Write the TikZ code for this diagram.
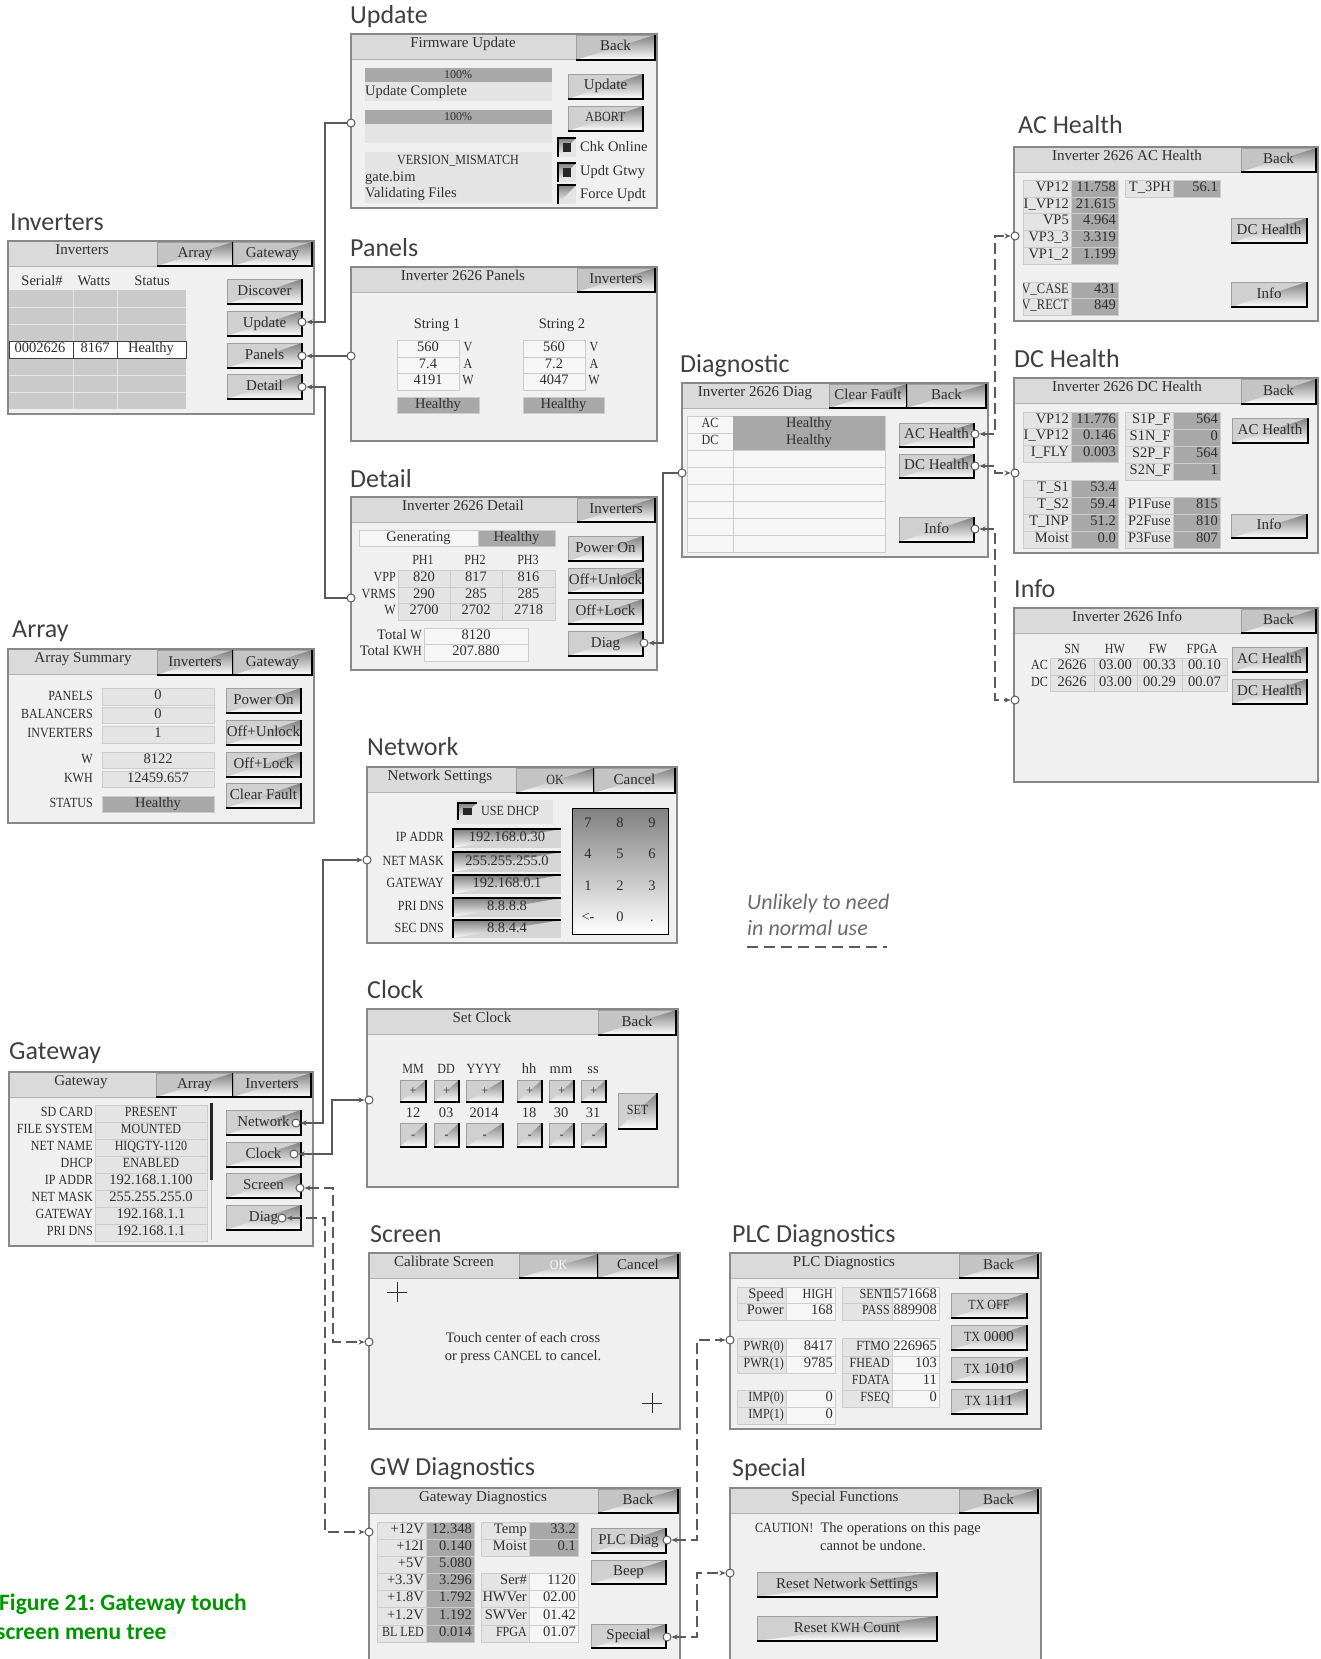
\documentclass[tikz,border=0pt]{standalone}
\usepackage{fontspec}
\setmainfont{Liberation Serif}
\newfontfamily\calfont{Carlito}
\newfontfamily\capfont[FakeStretch=0.86]{Liberation Serif}
\usetikzlibrary{arrows.meta}
\frenchspacing
\definecolor{scrbg}{HTML}{F0F0F0}
\definecolor{hdrbg}{HTML}{DADADA}
\definecolor{tabbg}{HTML}{C4C4C4}
\definecolor{btnbg}{HTML}{D0D0D0}
\definecolor{darkc}{HTML}{A8A8A8}
\definecolor{lightc}{HTML}{E4E4E4}
\definecolor{whitec}{HTML}{F6F6F6}
\definecolor{rowc}{HTML}{CACACA}
\definecolor{gridc}{HTML}{CCCCCC}
\definecolor{framec}{HTML}{888888}
\definecolor{shade}{HTML}{505050}
\definecolor{txtc}{HTML}{2E2E2E}
\definecolor{titlec}{HTML}{404040}
\definecolor{linec}{HTML}{5A5A5A}
\definecolor{capc}{RGB}{0,150,0}
\newcount\nodecnt
\newcommand\nxt{\global\advance\nodecnt by 1\relax}
\newcommand\fs{\fontsize{14.5}{16}\selectfont}
\newcommand\fb{\fontsize{15}{17}\selectfont}
\newcommand\fsm{\fontsize{12}{14}\selectfont}
\newcommand\fcap{\capfont\fontsize{14}{16}\selectfont}
\tikzset{
  ttl/.style={font=\calfont\fontsize{26}{28}\selectfont,text=titlec,anchor=base west,inner sep=0pt},
  hdrt/.style={font=\fb,text=txtc,inner sep=0pt,text height=9.5pt,text depth=2.5pt},
  bt/.style={font=\fb,text=txtc,inner sep=0pt,text height=9.5pt,text depth=2.5pt},
  ct/.style={font=\fs,text=txtc,inner sep=0pt,text height=9pt,text depth=2.5pt},
  lc/.style={fill=lightc,draw=gridc,line width=0.6pt},
  dc/.style={fill=darkc,draw=gridc,line width=0.6pt},
  wc/.style={fill=whitec,draw=gridc,line width=0.6pt},
  pl/.style={},
  port/.style={circle,draw=linec,fill=white,line width=1pt,inner sep=0pt,minimum size=8pt},
  linkA/.style={draw=linec,line width=1.1pt,arrows={Stealth[length=6pt,width=5pt]-}},
  linkB/.style={draw=linec,line width=1.1pt,arrows={Stealth[length=6pt,width=5pt]-Stealth[length=6pt,width=5pt]}},
  dashy/.style={dash pattern=on 11pt off 5pt},
}
\newcommand\scrn[6]{%
  \fill[scrbg] (#1,#2) rectangle (#3,#4);
  \fill[hdrbg] (#1,#2) rectangle (#3,{#2+25});
  \draw[gray!60,line width=0.6pt] (#1,{#2+25}) -- (#3,{#2+25});
  \draw[framec,line width=1.6pt] (#1,#2) rectangle (#3,#4);
  \nxt\node[hdrt] (n\the\nodecnt) at (#6,{#2+10}) {#5};}
\newcommand\raised[7]{%
  \fill[#1] (#3,#4) rectangle (#5,#6);
  \draw[gray!75,line width=0.6pt] (#3,#6) -- (#3,#4) -- (#5,#4);
  \draw[shade,line width=2pt] (#5,#4) -- (#5,#6) -- (#3,#6);
  \node[bt] (#2) at ({(#3+#5)/2},{(#4+#6)/2}) {#7};}
\newcommand\btn[6]{\raised{btnbg}{#1}{#2}{#3}{#4}{#5}{#6}}
\newcommand\tabb[6]{\raised{tabbg}{#1}{#2}{#3}{#4}{#5}{#6}}
\newcommand\cellC[6]{\path[#1] (#2,#3) rectangle (#4,#5);
  \nxt\node[ct] (n\the\nodecnt) at ({(#2+#4)/2},{(#3+#5)/2}) {#6};}
\newcommand\cellR[6]{\path[#1] (#2,#3) rectangle (#4,#5);
  \nxt\node[ct,anchor=east] (n\the\nodecnt) at ({#4-2},{(#3+#5)/2}) {#6};}
\newcommand\lblC[3]{\nxt\node[ct] (n\the\nodecnt) at (#1,#2) {#3};}
\newcommand\lblR[3]{\nxt\node[ct,anchor=east] (n\the\nodecnt) at (#1,#2) {#3};}
\newcommand\lblL[3]{\nxt\node[ct,anchor=west] (n\the\nodecnt) at (#1,#2) {#3};}
\newcommand\lvR[8]{\cellR{lc}{#1}{#4}{#2}{#5}{#6}\cellR{#8}{#2}{#4}{#3}{#5}{#7}}
\newcommand\lvC[8]{\cellR{#8}{#1}{#4}{#2}{#5}{#6}\cellC{lc}{#2}{#4}{#3}{#5}{#7}}
\newcommand\chk[5]{%
  \fill[lightc] (#1,#2) rectangle (#3,#4);
  \draw[shade,line width=1.5pt] (#1,#4) -- (#1,#2) -- (#3,#2);
  \ifnum#5=1 \fill[black!85] ({#1+5},{#2+5}) rectangle ({#3-5},{#4-5});\fi}
\newcommand\sunk[5]{%
  \fill[rowc!80!white] (#1,#2) rectangle (#3,#4);
  \draw[shade,line width=1.4pt] (#1,#4) -- (#1,#2) -- (#3,#2);
  \nxt\node[ct] (n\the\nodecnt) at ({(#1+#3)/2},{(#2+#4)/2}) {#5};}
\begin{document}
\begin{tikzpicture}[x=1pt,y=-1pt]
\fill[white] (0,0) rectangle (1320,1659);
\useasboundingbox (0,0) rectangle (1320,1659);

% ---------------- Inverters
\node[ttl] (tInv) at (10,230) {Inverters};
\scrn{8}{241}{314}{414}{Inverters}{82}
\tabb{invArr}{157}{242}{233}{266}{Array}
\tabb{invGw}{233}{242}{312}{266}{Gateway}
\lblC{42}{282}{Serial\#}\lblC{94}{282}{Watts}\lblC{152}{282}{Status}
\fill[rowc] (9,290) rectangle (186,409);
\foreach \yy in {307,324,341,358,375,392}{\draw[white!80!gray,line width=0.8pt] (9,\yy) -- (186,\yy);}
\foreach \xx in {73,117}{\draw[white!80!gray,line width=0.8pt] (\xx,290) -- (\xx,409);}
\fill[white] (9,341) rectangle (186,358);
\draw[gray!50!black,line width=0.8pt] (9,341) rectangle (186,358) (73,341) -- (73,358) (117,341) -- (117,358);
\lblC{40}{349.5}{0002626}\lblC{95}{349.5}{8167}\lblC{151}{349.5}{Healthy}
\btn{bDisc}{227}{279}{302}{304}{Discover}
\btn{bUpd}{227}{311}{302}{336}{Update}
\btn{bPan}{227}{343}{302}{368}{Panels}
\btn{bDet}{227}{374}{302}{399}{Detail}
\node[port] (pUpd) at (302,322) {};
\node[port] (pPan) at (302,356) {};
\node[port] (pDet) at (302,387) {};

% ---------------- Update
\node[ttl] (tUpd) at (350,24) {Update};
\scrn{351}{34}{657}{208}{Firmware Update}{463}
\tabb{updBack}{576}{35}{655}{60}{Back}
\fill[darkc] (365,68) rectangle (552,82);
\node[ct,font=\fsm] (u100a) at (458,75) {100\%};
\fill[lightc] (365,82) rectangle (552,101);
\lblL{365}{92}{Update Complete}
\fill[darkc] (365,110) rectangle (552,124);
\node[ct,font=\fsm] (u100b) at (458,117) {100\%};
\fill[lightc] (365,124) rectangle (552,143);
\fill[lightc] (365,152) rectangle (552,203);
\lblC{458}{161}{\fcap VERSION\_MISMATCH}
\lblL{365}{178}{gate.bim}
\lblL{365}{194}{Validating Files}
\btn{updUpd}{568}{74}{643}{99}{Update}
\btn{updAb}{568}{106}{643}{131}{\fcap ABORT}
\chk{558}{138}{576}{157}{1}\lblL{580}{148}{Chk Online}
\chk{558}{163}{576}{182}{1}\lblL{580}{172}{Updt Gtwy}
\chk{558}{185}{576}{204}{0}\lblL{580}{195}{Force Updt}
\node[port] (pUpdIn) at (351,123) {};

% ---------------- Panels
\node[ttl] (tPan) at (350,256) {Panels};
\scrn{351}{267}{657}{441}{Inverter 2626 Panels}{463}
\tabb{panBack}{577}{268}{655}{292}{Inverters}
\lblC{437}{325}{String 1}\lblC{562}{325}{String 2}
\cellC{wc}{397}{340}{459}{357}{560}\lblC{468}{348}{\fcap V}
\cellC{wc}{397}{357}{459}{373}{7.4}\lblC{468}{365}{\fcap A}
\cellC{wc}{397}{373}{459}{390}{4191}\lblC{468}{381}{\fcap W}
\cellC{dc}{397}{397}{479}{413}{Healthy}
\cellC{wc}{523}{340}{585}{357}{560}\lblC{594}{348}{\fcap V}
\cellC{wc}{523}{357}{585}{373}{7.2}\lblC{594}{365}{\fcap A}
\cellC{wc}{523}{373}{585}{390}{4047}\lblC{594}{381}{\fcap W}
\cellC{dc}{523}{397}{604}{413}{Healthy}
\node[port] (pPanIn) at (351,356) {};

% ---------------- Detail
\node[ttl] (tDet) at (350,487) {Detail};
\scrn{351}{497}{657}{670}{Inverter 2626 Detail}{463}
\tabb{detBack}{577}{498}{655}{522}{Inverters}
\cellC{wc}{359}{530}{478}{546}{Generating}
\cellC{dc}{478}{530}{555}{546}{Healthy}
\lblC{423}{561}{\fcap PH1}\lblC{475}{561}{\fcap PH2}\lblC{528}{561}{\fcap PH3}
\cellC{lc}{398}{570}{450}{587}{820}\cellC{lc}{450}{570}{502}{587}{817}\cellC{lc}{502}{570}{555}{587}{816}
\cellC{lc}{398}{587}{450}{603}{290}\cellC{lc}{450}{587}{502}{603}{285}\cellC{lc}{502}{587}{555}{603}{285}
\cellC{lc}{398}{603}{450}{620}{2700}\cellC{lc}{450}{603}{502}{620}{2702}\cellC{lc}{502}{603}{555}{620}{2718}
\lblR{396}{578}{\fcap VPP}\lblR{396}{595}{\fcap VRMS}\lblR{396}{611}{\fcap W}
\lblR{422}{636}{Total {\fcap W}}\cellC{wc}{424}{628}{528}{644}{8120}
\lblR{422}{652}{Total {\fcap KWH}}\cellC{wc}{424}{644}{528}{661}{207.880}
\btn{detPow}{568}{536}{643}{561}{Power On}
\btn{detOU}{568}{568}{643}{593}{Off+Unlock}
\btn{detOL}{568}{599}{643}{624}{Off+Lock}
\btn{detDiag}{568}{631}{643}{656}{Diag}
\node[port] (pDiag) at (644,643) {};
\node[port] (pDetIn) at (351,598) {};

% ---------------- Diagnostic
\node[ttl] (tDiagT) at (680,372) {Diagnostic};
\scrn{682}{383}{988}{557}{Inverter 2626 Diag}{755}
\tabb{dgCF}{829}{384}{907}{408}{Clear Fault}
\tabb{dgBack}{907}{384}{986}{408}{Back}
\fill[whitec] (687,416) rectangle (885,552);
\foreach \yy in {433,450,467,484,501,518,535}{\draw[gridc,line width=0.8pt] (687,\yy) -- (885,\yy);}
\draw[gridc,line width=0.8pt] (733,416) -- (733,552) (687,416) rectangle (885,552);
\fill[darkc] (733,416) rectangle (885,450);
\lblC{710}{424}{\fcap AC}\lblC{710}{441}{\fcap DC}
\lblC{809}{424}{Healthy}\lblC{809}{441}{Healthy}
\btn{dgAC}{899}{423}{974}{447}{AC Health}
\btn{dgDC}{899}{454}{974}{478}{DC Health}
\btn{dgInfo}{899}{517}{974}{542}{Info}
\node[port] (pDgAC) at (975,434) {};
\node[port] (pDgDC) at (975,466) {};
\node[port] (pDgInfo) at (975,529) {};
\node[port] (pDiagIn) at (682,473) {};

% ---------------- AC Health
\node[ttl] (tAC) at (1018,134) {AC Health};
\scrn{1014}{147}{1318}{321}{Inverter 2626 AC Health}{1127}
\tabb{acBack}{1241}{148}{1316}{172}{Back}
\lvR{1023}{1071}{1118}{180}{197}{VP12}{11.758}{dc}
\lvR{1023}{1071}{1118}{197}{213}{I\_VP12}{21.615}{dc}
\lvR{1023}{1071}{1118}{213}{230}{VP5}{4.964}{dc}
\lvR{1023}{1071}{1118}{230}{247}{VP3\_3}{3.319}{dc}
\lvR{1023}{1071}{1118}{247}{264}{VP1\_2}{1.199}{dc}
\lvR{1125}{1173}{1220}{180}{197}{T\_3PH}{56.1}{dc}
\begin{scope}
\clip (1023,281) rectangle (1119,316);
\lvR{1023}{1071}{1118}{282}{298}{{\capfont\fontsize{14.5}{16}\selectfont V\_CASE}}{431}{dc}
\lvR{1023}{1071}{1118}{298}{315}{{\capfont\fontsize{14.5}{16}\selectfont V\_RECT}}{849}{dc}
\end{scope}
\btn{acDC}{1231}{218}{1307}{243}{DC Health}
\btn{acInfo}{1231}{282}{1307}{307}{Info}
\node[port] (pACin) at (1015,236) {};

% ---------------- DC Health
\node[ttl] (tDC) at (1014,367) {DC Health};
\scrn{1014}{378}{1318}{553}{Inverter 2626 DC Health}{1127}
\tabb{dcBack}{1241}{379}{1316}{404}{Back}
\lvR{1023}{1071}{1118}{412}{428}{VP12}{11.776}{dc}
\lvR{1023}{1071}{1118}{428}{445}{I\_VP12}{0.146}{dc}
\lvR{1023}{1071}{1118}{445}{462}{I\_FLY}{0.003}{dc}
\lvR{1023}{1071}{1118}{480}{497}{T\_S1}{53.4}{dc}
\lvR{1023}{1071}{1118}{497}{514}{T\_S2}{59.4}{dc}
\lvR{1023}{1071}{1118}{514}{531}{T\_INP}{51.2}{dc}
\lvR{1023}{1071}{1118}{531}{548}{Moist}{0.0}{dc}
\lvR{1125}{1173}{1220}{412}{429}{S1P\_F}{564}{dc}
\lvR{1125}{1173}{1220}{429}{446}{S1N\_F}{0}{dc}
\lvR{1125}{1173}{1220}{446}{463}{S2P\_F}{564}{dc}
\lvR{1125}{1173}{1220}{463}{480}{S2N\_F}{1}{dc}
\lvR{1125}{1173}{1220}{497}{514}{P1Fuse}{815}{dc}
\lvR{1125}{1173}{1220}{514}{531}{P2Fuse}{810}{dc}
\lvR{1125}{1173}{1220}{531}{548}{P3Fuse}{807}{dc}
\btn{dcAC}{1232}{418}{1308}{443}{AC Health}
\btn{dcInfo}{1231}{514}{1307}{538}{Info}
\node[port] (pDCin) at (1015,473) {};

% ---------------- Info
\node[ttl] (tInfo) at (1014,597) {Info};
\scrn{1014}{608}{1318}{782}{Inverter 2626 Info}{1127}
\tabb{infBack}{1241}{609}{1316}{633}{Back}
\lblC{1072}{650}{\fcap SN}\lblC{1115}{650}{\fcap HW}\lblC{1158}{650}{\fcap FW}\lblC{1202}{650}{\fcap FPGA}
\cellC{lc}{1050}{658}{1094}{675}{2626}\cellC{lc}{1094}{658}{1137}{675}{03.00}\cellC{lc}{1137}{658}{1182}{675}{00.33}\cellC{lc}{1182}{658}{1227}{675}{00.10}
\cellC{lc}{1050}{675}{1094}{691}{2626}\cellC{lc}{1094}{675}{1137}{691}{03.00}\cellC{lc}{1137}{675}{1182}{691}{00.29}\cellC{lc}{1182}{675}{1227}{691}{00.07}
\lblR{1048}{666}{\fcap AC}\lblR{1048}{683}{\fcap DC}
\btn{infAC}{1232}{647}{1307}{672}{AC Health}
\btn{infDC}{1232}{679}{1307}{704}{DC Health}
\node[port] (pInfoIn) at (1015,700) {};

% ---------------- Array
\node[ttl] (tArr) at (12,637) {Array};
\scrn{8}{649}{314}{823}{Array Summary}{83}
\tabb{arrInv}{157}{650}{233}{675}{Inverters}
\tabb{arrGw}{233}{650}{312}{675}{Gateway}
\lblR{93}{697}{\fcap PANELS}\cellC{lc}{102}{688}{214}{705}{0}
\lblR{93}{715}{\fcap BALANCERS}\cellC{lc}{102}{707}{214}{723}{0}
\lblR{93}{734.5}{\fcap INVERTERS}\cellC{lc}{102}{726}{214}{743}{1}
\lblR{93}{760}{\fcap W}\cellC{lc}{102}{752}{214}{768}{8122}
\lblR{93}{779}{\fcap KWH}\cellC{lc}{102}{771}{214}{787}{12459.657}
\lblR{93}{804}{\fcap STATUS}\cellC{dc}{102}{796}{214}{812}{Healthy}
\btn{arrPow}{226}{688}{301}{713}{Power On}
\btn{arrOU}{226}{720}{301}{745}{Off+Unlock}
\btn{arrOL}{226}{752}{301}{777}{Off+Lock}
\btn{arrCF}{226}{783}{301}{808}{Clear Fault}

% ---------------- Network
\node[ttl] (tNet) at (367,755) {Network};
\scrn{367}{767}{677}{943}{Network Settings}{440}
\tabb{netOK}{516}{768}{594}{793}{\fcap OK}
\tabb{netCan}{594}{768}{675}{793}{Cancel}
\fill[lightc] (456,800) rectangle (553,824);
\chk{458}{803}{477}{820}{1}
\lblL{481}{812}{\fcap USE DHCP}
\lblR{444}{838}{\fcap IP ADDR}\sunk{453}{829}{561}{848}{192.168.0.30}
\lblR{444}{862}{\fcap NET MASK}\sunk{453}{852}{561}{872}{255.255.255.0}
\lblR{444}{884}{\fcap GATEWAY}\sunk{453}{875}{561}{894}{192.168.0.1}
\lblR{444}{907}{\fcap PRI DNS}\sunk{453}{898}{561}{917}{8.8.8.8}
\lblR{444}{929}{\fcap SEC DNS}\sunk{453}{920}{561}{938}{8.8.4.4}
\fill[rowc] (572,808) rectangle (668,934);
\draw[shade,line width=2pt] (604,808) -- (604,934) (636,808) -- (636,934) (572,839.5) -- (668,839.5) (572,871) -- (668,871) (572,902.5) -- (668,902.5);
\draw[shade,line width=1pt] (572,808) rectangle (668,934);
\foreach \k/\cx/\cy in {7/588/824,8/620/824,9/652/824,4/588/855,5/620/855,6/652/855,1/588/887,2/620/887,3/652/887,{<-}/588/918,0/620/918,./652/918}{\lblC{\cx}{\cy}{\k}}
\node[port] (pNetIn) at (367,860) {};

% ---------------- Gateway
\node[ttl] (tGw) at (9,1059) {Gateway};
\scrn{9}{1072}{313}{1246}{Gateway}{81}
\tabb{gwArr}{156}{1073}{233}{1097}{Array}
\tabb{gwInv}{233}{1073}{311}{1097}{Inverters}
\lvC{9}{95}{207}{1105}{1122}{\fcap SD CARD}{\fcap PRESENT}{pl}
\lvC{9}{95}{207}{1122}{1139}{\fcap FILE SYSTEM}{\fcap MOUNTED}{pl}
\lvC{9}{95}{207}{1139}{1156}{\fcap NET NAME}{\fcap HIQGTY-1120}{pl}
\lvC{9}{95}{207}{1156}{1173}{\fcap DHCP}{\fcap ENABLED}{pl}
\lvC{9}{95}{207}{1173}{1190}{\fcap IP ADDR}{192.168.1.100}{pl}
\lvC{9}{95}{207}{1190}{1207}{\fcap NET MASK}{255.255.255.0}{pl}
\lvC{9}{95}{207}{1207}{1224}{\fcap GATEWAY}{192.168.1.1}{pl}
\lvC{9}{95}{207}{1224}{1241}{\fcap PRI DNS}{192.168.1.1}{pl}
\fill[black!85] (209.5,1103) rectangle (213,1180);
\draw[gray!60,line width=1pt] (211,1180) -- (211,1240);
\btn{gwNet}{226}{1110}{301}{1135}{Network}
\btn{gwClk}{226}{1142}{301}{1167}{Clock}
\btn{gwScr}{226}{1173}{301}{1198}{Screen}
\btn{gwDiag}{226}{1205}{301}{1230}{Diag}
\node[port] (pNet) at (296,1123) {};
\node[port] (pClk) at (294,1154) {};
\node[port] (pScr) at (300,1188) {};
\node[port] (pGwDiag) at (282,1218) {};

% ---------------- Clock
\node[ttl] (tClk) at (367,998) {Clock};
\scrn{367}{1009}{678}{1187}{Set Clock}{482}
\tabb{clkBack}{598}{1010}{676}{1035}{Back}
\lblC{413}{1070}{\fcap MM}\lblC{446}{1070}{\fcap DD}\lblC{484}{1070}{\fcap YYYY}
\lblC{529}{1070}{hh}\lblC{561}{1070}{mm}\lblC{593}{1070}{ss}
\foreach \a/\b/\c/\v in {400/426/413/12,434/459/446/03,466/503/484/2014,517/542/529/18,549/574/561/30,581/606/593/31}{
  \nxt\btn{cp\the\nodecnt}{\a}{1080}{\b}{1102}{\fsm +}
  \lblC{\c}{1114}{\v}
  \nxt\btn{cm\the\nodecnt}{\a}{1123}{\b}{1147}{\fsm -}}
\btn{clkSet}{618}{1093}{657}{1129}{\fcap SET}
\node[port] (pClkIn) at (369,1100) {};

% ---------------- Screen
\node[ttl] (tScr) at (370,1242) {Screen};
\scrn{369}{1253}{680}{1429}{Calibrate Screen}{444}
\tabb{scrOK}{519}{1254}{598}{1278}{\textcolor{white!92!gray}{\fcap OK}}
\tabb{scrCan}{598}{1254}{678}{1278}{Cancel}
\draw[txtc,line width=0.8pt] (387,1292) -- (407,1292) (397,1282) -- (397,1302);
\draw[txtc,line width=0.8pt] (642,1403) -- (662,1403) (652,1393) -- (652,1413);
\lblC{523}{1339}{Touch center of each cross}
\lblC{523}{1357}{or press {\fcap CANCEL} to cancel.}
\node[port] (pScrIn) at (369,1342) {};

% ---------------- GW Diagnostics
\node[ttl] (tGwd) at (370,1475) {GW Diagnostics};
\scrn{369}{1488}{680}{1680}{Gateway Diagnostics}{483}
\tabb{gwdBack}{598}{1489}{678}{1513}{Back}
\lvR{377}{426}{474}{1522}{1539}{+12V}{12.348}{dc}
\lvR{377}{426}{474}{1539}{1556}{+12I}{0.140}{dc}
\lvR{377}{426}{474}{1556}{1573}{+5V}{5.080}{dc}
\lvR{377}{426}{474}{1573}{1590}{+3.3V}{3.296}{dc}
\lvR{377}{426}{474}{1590}{1607}{+1.8V}{1.792}{dc}
\lvR{377}{426}{474}{1607}{1625}{+1.2V}{1.192}{dc}
\lvR{377}{426}{474}{1625}{1642}{{\fcap BL LED}}{0.014}{dc}
\lvR{481}{529}{578}{1522}{1539}{Temp}{33.2}{dc}
\lvR{481}{529}{578}{1539}{1556}{Moist}{0.1}{dc}
\lvR{481}{529}{578}{1573}{1590}{Ser\#}{1120}{wc}
\lvR{481}{529}{578}{1590}{1607}{HWVer}{02.00}{wc}
\lvR{481}{529}{578}{1607}{1625}{SWVer}{01.42}{wc}
\lvR{481}{529}{578}{1625}{1642}{{\fcap FPGA}}{01.07}{wc}
\btn{gwdPLC}{591}{1528}{666}{1553}{PLC Diag}
\btn{gwdBeep}{591}{1560}{666}{1584}{Beep}
\btn{gwdSp}{591}{1624}{666}{1648}{Special}
\node[port] (pPLC) at (667,1540) {};
\node[port] (pSp) at (667,1637) {};
\node[port] (pGwdIn) at (369,1532) {};

% ---------------- PLC Diagnostics
\node[ttl] (tPLC) at (732,1242) {PLC Diagnostics};
\scrn{730}{1253}{1041}{1429}{PLC Diagnostics}{844}
\tabb{plcBack}{959}{1254}{1038}{1278}{Back}
\lvR{737}{786}{835}{1287}{1303}{Speed}{{\fcap HIGH}}{wc}
\lvR{737}{786}{835}{1303}{1320}{Power}{168}{wc}
\lvR{842}{892}{939}{1287}{1303}{{\fcap SENT}}{1571668}{wc}
\lvR{842}{892}{939}{1303}{1320}{{\fcap PASS}}{889908}{wc}
\lvR{737}{786}{835}{1338}{1356}{{\fcap PWR(0)}}{8417}{wc}
\lvR{737}{786}{835}{1356}{1373}{{\fcap PWR(1)}}{9785}{wc}
\lvR{737}{786}{835}{1390}{1407}{{\fcap IMP(0)}}{0}{wc}
\lvR{737}{786}{835}{1407}{1424}{{\fcap IMP(1)}}{0}{wc}
\lvR{842}{892}{939}{1338}{1356}{{\fcap FTMO}}{226965}{wc}
\lvR{842}{892}{939}{1356}{1373}{{\fcap FHEAD}}{103}{wc}
\lvR{842}{892}{939}{1373}{1390}{{\fcap FDATA}}{11}{wc}
\lvR{842}{892}{939}{1390}{1407}{{\fcap FSEQ}}{0}{wc}
\btn{txOff}{951}{1293}{1027}{1318}{\fcap TX OFF}
\btn{tx0}{951}{1325}{1027}{1350}{{\fcap TX} 0000}
\btn{tx10}{951}{1357}{1027}{1382}{{\fcap TX} 1010}
\btn{tx11}{951}{1389}{1027}{1414}{{\fcap TX} 1111}
\node[port] (pPLCin) at (730,1340) {};

% ---------------- Special
\node[ttl] (tSp) at (732,1476) {Special};
\scrn{730}{1488}{1041}{1680}{Special Functions}{845}
\tabb{spBack}{959}{1489}{1038}{1513}{Back}
\lblC{868}{1529}{{\fcap CAUTION!}\ \ The operations on this page}
\lblC{873}{1547}{cannot be undone.}
\btn{spNet}{757}{1572}{937}{1597}{Reset Network Settings}
\btn{spKWH}{757}{1616}{937}{1641}{Reset {\fcap KWH} Count}
\node[port] (pSpIn) at (730,1573) {};

% ---------------- connectors
\draw[linkA] (pUpd) -- (325,322) |- (pUpdIn);
\draw[linkA] (pPan) -- (pPanIn);
\draw[linkA] (pDet) -- (325,387) |- (pDetIn);
\draw[linkA] (pDiag) -- (663,643) |- (pDiagIn);
\draw[linkB,dashy] (pDgAC) -- (995,434) |- (pACin);
\draw[linkB,dashy] (pDgDC) -- (995,466) -- (995,473) -- (pDCin);
\draw[linkB,dashy] (pDgInfo) -- (995,529) |- (pInfoIn);
\draw[linkB] (pNet) -- (323,1123) |- (pNetIn);
\draw[linkB] (pClk) -- (332,1154) |- (pClkIn);
\draw[linkB,dashy] (pScr) -- (333,1188) |- (pScrIn);
\draw[linkB,dashy] (pGwDiag) -- (325,1218) |- (pGwdIn);
\draw[linkB,dashy] (pPLC) -- (697,1540) |- (pPLCin);
\draw[linkB,dashy] (pSp) -- (697,1637) |- (pSpIn);

% ---------------- notes
\node[font=\calfont\itshape\fontsize{22}{27}\selectfont,text=gray!85!black,anchor=base west,inner sep=0pt] (unl1) at (747,909) {Unlikely to need};
\node[font=\calfont\itshape\fontsize{22}{27}\selectfont,text=gray!85!black,anchor=base west,inner sep=0pt] (unl2) at (747,935) {in normal use};
\coordinate (dl1) at (747,947);
\coordinate (dl2) at (887,947);
\draw[linec,line width=1.3pt,dash pattern=on 11pt off 6pt] (dl1) -- (dl2);
\node[font=\calfont\bfseries\fontsize{23.5}{29}\selectfont,text=capc,anchor=base west,inner sep=0pt] (cap1) at (-1,1610) {Figure 21: Gateway touch};
\node[font=\calfont\bfseries\fontsize{23.5}{29}\selectfont,text=capc,anchor=base west,inner sep=0pt] (cap2) at (-4,1639) {screen menu tree};
\end{tikzpicture}
\end{document}
